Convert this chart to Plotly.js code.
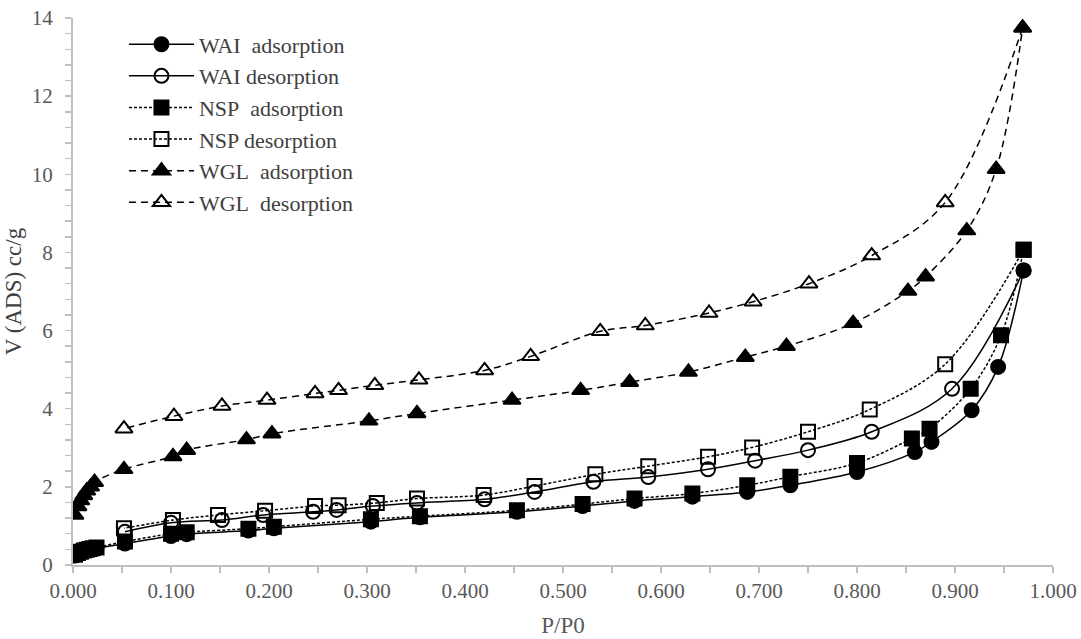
<!DOCTYPE html>
<html>
<head>
<meta charset="utf-8">
<script src="https://cdn.plot.ly/plotly-3.0.1.min.js"></script>
<style>html,body{margin:0;padding:0;background:#fff;}#chart{width:1081px;height:639px;}</style>
</head>
<body>
<div id="chart"></div>
<script>
// WAI adsorption
const waiAdsX = [0.002,0.005,0.008,0.011,0.014,0.017,0.020,0.024,0.053,0.100,0.116,0.179,0.205,0.304,0.354,0.453,0.520,0.573,0.632,0.688,0.732,0.800,0.859,0.876,0.917,0.944,0.970];
const waiAdsY = [0.24,0.29,0.32,0.35,0.37,0.39,0.41,0.43,0.55,0.74,0.79,0.88,0.94,1.11,1.22,1.36,1.51,1.64,1.75,1.87,2.04,2.38,2.89,3.15,3.96,5.07,7.54];
// WAI desorption
const waiDesX = [0.970,0.897,0.815,0.750,0.696,0.648,0.587,0.531,0.471,0.420,0.351,0.306,0.269,0.245,0.194,0.152,0.100,0.053];
const waiDesY = [7.54,4.51,3.41,2.94,2.67,2.45,2.25,2.13,1.87,1.68,1.59,1.51,1.41,1.36,1.28,1.15,1.08,0.85];
// NSP adsorption
const nspAdsX = [0.002,0.005,0.008,0.011,0.014,0.017,0.020,0.024,0.053,0.100,0.116,0.179,0.205,0.304,0.354,0.453,0.520,0.573,0.632,0.688,0.732,0.800,0.856,0.874,0.916,0.947,0.970];
const nspAdsY = [0.26,0.31,0.34,0.37,0.39,0.41,0.43,0.45,0.60,0.80,0.84,0.93,0.98,1.17,1.25,1.40,1.56,1.70,1.83,2.04,2.26,2.61,3.24,3.49,4.51,5.88,8.07];
// NSP desorption
const nspDesX = [0.970,0.890,0.813,0.750,0.693,0.648,0.587,0.533,0.471,0.419,0.351,0.310,0.271,0.247,0.196,0.148,0.102,0.052];
const nspDesY = [8.07,5.14,3.98,3.41,3.01,2.77,2.53,2.32,2.02,1.79,1.70,1.59,1.53,1.51,1.39,1.28,1.15,0.94];
// WGL adsorption
const wglAdsX = [0.002,0.005,0.008,0.011,0.014,0.018,0.022,0.052,0.102,0.116,0.177,0.203,0.302,0.351,0.448,0.518,0.568,0.628,0.686,0.728,0.796,0.852,0.870,0.912,0.942,0.969];
const wglAdsY = [1.28,1.50,1.65,1.78,1.90,2.00,2.12,2.45,2.78,2.94,3.21,3.36,3.69,3.88,4.22,4.47,4.68,4.94,5.32,5.60,6.19,7.01,7.38,8.56,10.13,13.75];
// WGL desorption
const wglDesX = [0.969,0.890,0.815,0.751,0.694,0.649,0.584,0.538,0.467,0.420,0.353,0.308,0.271,0.247,0.198,0.152,0.103,0.052];
const wglDesY = [13.75,9.28,7.92,7.20,6.74,6.45,6.13,5.98,5.34,4.98,4.74,4.60,4.47,4.39,4.22,4.07,3.81,3.49];

const names = ['WAI\u00a0\u00a0adsorption','WAI desorption','NSP\u00a0\u00a0adsorption','NSP desorption','WGL\u00a0\u00a0adsorption','WGL\u00a0\u00a0desorption'];

const solid = 'solid', shortDash = '3px,2px', longDash = '7px,5px';
function tr(x, y, name, dash, symbol, size) {
  return {
    x: x, y: y, name: name, type: 'scatter', mode: 'lines+markers',
    line: {color: '#000', width: 1.5, dash: dash, shape: 'spline', smoothing: 1},
    marker: {symbol: symbol, size: size, color: '#000',
             line: {color: '#000', width: 2}}
  };
}
const data = [
  tr(waiAdsX, waiAdsY, names[0], solid, 'circle', 14),
  tr(waiDesX, waiDesY, names[1], solid, 'circle-open', 14),
  tr(nspAdsX, nspAdsY, names[2], shortDash, 'square', 14),
  tr(nspDesX, nspDesY, names[3], shortDash, 'square-open', 14),
  tr(wglAdsX, wglAdsY, names[4], longDash, 'triangle-up', 15),
  tr(wglDesX, wglDesY, names[5], longDash, 'triangle-up-open', 15)
];

const serif = 'Liberation Serif, Times New Roman, serif';
const axisFont = {family: serif, size: 21, color: '#595959'};
const layout = {
  width: 1081, height: 639,
  margin: {l: 73, r: 28, t: 18, b: 74},
  paper_bgcolor: '#fff', plot_bgcolor: '#fff',
  showlegend: true,
  legend: {
    x: 0.052, y: 0.99, xanchor: 'left', yanchor: 'top',
    font: {family: serif, size: 22, color: '#404040'},
    bgcolor: 'rgba(0,0,0,0)', itemwidth: 65, tracegroupgap: 0
  },
  xaxis: {
    range: [0, 1], dtick: 0.1, tick0: 0, tickformat: '.3f',
    showgrid: false, zeroline: false,
    showline: true, linecolor: '#bfbfbf', linewidth: 2,
    ticks: 'outside', ticklen: 6, tickcolor: '#bfbfbf', tickwidth: 1.5,
    minor: {dtick: 0.05, ticks: 'outside', ticklen: 6, tickcolor: '#bfbfbf', tickwidth: 1.5, showgrid: false},
    tickfont: axisFont,
    title: {text: 'P/P0', font: {family: serif, size: 23, color: '#595959'}, standoff: 15}
  },
  yaxis: {
    range: [0, 14], dtick: 2, tick0: 0,
    showgrid: false, zeroline: false,
    showline: true, linecolor: '#bfbfbf', linewidth: 2,
    ticks: 'outside', ticklen: 6, tickcolor: '#bfbfbf', tickwidth: 1.5,
    ticklabelstandoff: 8,
    minor: {dtick: 0.4, ticks: 'outside', ticklen: 6, tickcolor: '#bfbfbf', tickwidth: 1.5, showgrid: false},
    tickfont: axisFont,
    title: {text: 'V (ADS) cc/g', font: {family: serif, size: 23, color: '#404040'}, standoff: 4}
  }
};
Plotly.newPlot('chart', data, layout, {displayModeBar: false, staticPlot: true});
</script>
</body>
</html>
